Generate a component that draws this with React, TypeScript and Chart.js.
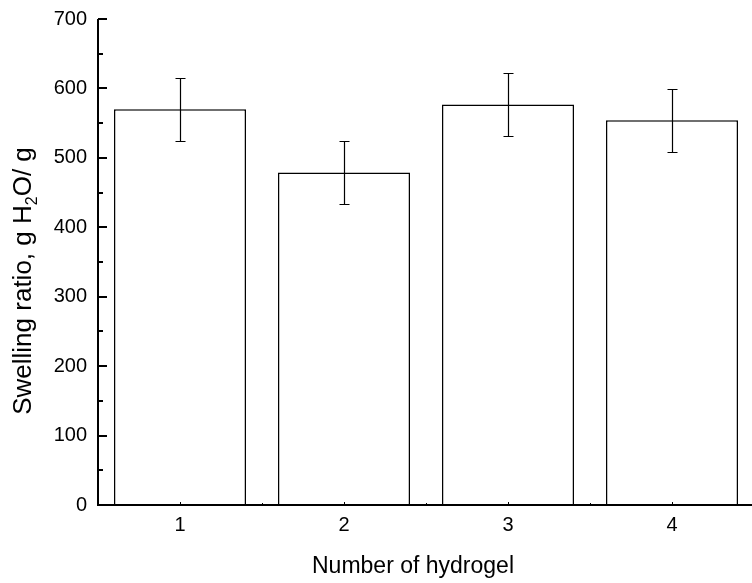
import React, { useEffect, useRef } from "react";
import { Chart, registerables } from "chart.js";

Chart.register(...registerables);

// ---- data ----
const categories = ["1", "2", "3", "4"];
const swellingRatio = [570, 479, 577, 554];
const swellingError = [45, 45, 45, 45];
const yTickMin = 0;
const yTickMax = 700;
const yMajorStep = 100;
const yMinorStep = 50;
const xTitle = "Number of hydrogel";
const yTitleParts = ["Swelling ratio, g H", "2", "O/ g"];

const FONT = "'Liberation Sans', Arial, Helvetica, sans-serif";
const W = 770;
const H = 583;
const LEFT = 98;
const TOP = 19;
const BOTTOM = 505;
const RIGHT = 754;

const decorPlugin = {
  id: "decor",
  afterDatasetsDraw(chart: any) {
    const { ctx, chartArea, scales } = chart;
    const y = scales.y;
    const x = scales.x;
    ctx.save();
    ctx.strokeStyle = "#000";

    // error bars
    const meta = chart.getDatasetMeta(0);
    ctx.lineWidth = 1.2;
    meta.data.forEach((el: any, i: number) => {
      const cx = Math.round(el.x) + 0.5;
      const t = Math.round(y.getPixelForValue(swellingRatio[i] + swellingError[i])) + 0.5;
      const b = Math.round(y.getPixelForValue(swellingRatio[i] - swellingError[i])) + 0.5;
      ctx.beginPath();
      ctx.moveTo(cx, t);
      ctx.lineTo(cx, b);
      ctx.moveTo(cx - 5, t);
      ctx.lineTo(cx + 5, t);
      ctx.moveTo(cx - 5, b);
      ctx.lineTo(cx + 5, b);
      ctx.stroke();
    });

    // axes lines
    ctx.lineWidth = 2;
    ctx.beginPath();
    ctx.moveTo(chartArea.left, chartArea.top);
    ctx.lineTo(chartArea.left, chartArea.bottom + 1);
    ctx.moveTo(chartArea.left - 1, chartArea.bottom);
    ctx.lineTo(chartArea.right, chartArea.bottom);
    ctx.stroke();

    // y ticks (inward)
    ctx.lineWidth = 2;
    ctx.beginPath();
    for (let v = yTickMin; v <= yTickMax; v += yMinorStep) {
      const py = Math.round(y.getPixelForValue(v));
      const major = v % yMajorStep === 0;
      ctx.moveTo(chartArea.left, py);
      ctx.lineTo(chartArea.left + (major ? 9 : 5), py);
    }
    ctx.stroke();

    // x ticks (tiny, inward)
    ctx.lineWidth = 1;
    ctx.beginPath();
    for (let i = 0; i < categories.length; i++) {
      const px = Math.round(x.getPixelForValue(i)) + 0.5;
      ctx.moveTo(px, chartArea.bottom);
      ctx.lineTo(px, chartArea.bottom - 3);
      const pb = Math.round(x.getPixelForValue(i + 0.5)) + 0.5;
      ctx.moveTo(pb, chartArea.bottom);
      ctx.lineTo(pb, chartArea.bottom - 2);
    }
    ctx.stroke();

    // titles
    ctx.fillStyle = "#000";
    ctx.font = `23px ${FONT}`;
    ctx.textAlign = "center";
    ctx.textBaseline = "alphabetic";
    ctx.fillText(xTitle, 413, 573);

    // y title with subscript
    ctx.save();
    ctx.translate(31, 281);
    ctx.rotate(-Math.PI / 2);
    ctx.textAlign = "left";
    const big = `26px ${FONT}`;
    const small = `16px ${FONT}`;
    ctx.font = big;
    const w0 = ctx.measureText(yTitleParts[0]).width;
    const w2 = ctx.measureText(yTitleParts[2]).width;
    ctx.font = small;
    const w1 = ctx.measureText(yTitleParts[1]).width;
    const total = w0 + w1 + w2;
    let cx = -total / 2;
    ctx.font = big;
    ctx.fillText(yTitleParts[0], cx, 0);
    cx += w0;
    ctx.font = small;
    ctx.fillText(yTitleParts[1], cx, 6);
    cx += w1;
    ctx.font = big;
    ctx.fillText(yTitleParts[2], cx, 0);
    ctx.restore();

    ctx.restore();
  },
};

export default function App() {
  const canvasRef = useRef<HTMLCanvasElement | null>(null);

  useEffect(() => {
    const canvas = canvasRef.current;
    if (!canvas) return;
    const chart = new Chart(canvas, {
      type: "bar",
      data: {
        labels: categories,
        datasets: [
          {
            data: swellingRatio,
            backgroundColor: "#ffffff",
            borderColor: "#000000",
            borderWidth: 1.5,
            barPercentage: 0.805,
            categoryPercentage: 1,
          },
        ],
      },
      options: {
        responsive: false,
        animation: false,
        devicePixelRatio: 1,
        layout: { padding: { left: 0, top: TOP, right: W - RIGHT, bottom: 0 } },
        plugins: {
          legend: { display: false },
          tooltip: { enabled: false },
          title: { display: false },
        },
        scales: {
          x: {
            offset: true,
            grid: { display: false, drawTicks: false },
            border: { display: false },
            ticks: {
              color: "#000",
              font: { family: FONT, size: 20 },
              padding: 8,
            },
            afterFit: (scale: any) => {
              scale.height = H - BOTTOM;
              scale.paddingLeft = 0;
              scale.paddingRight = 0;
            },
          },
          y: {
            min: yTickMin,
            max: yTickMax,
            grid: { display: false, drawTicks: false },
            border: { display: false },
            ticks: {
              stepSize: yMajorStep,
              color: "#000",
              font: { family: FONT, size: 20 },
              padding: 11,
            },
            afterFit: (scale: any) => {
              scale.width = LEFT;
              scale.paddingTop = 0;
              scale.paddingBottom = 0;
            },
          },
        },
      },
      plugins: [decorPlugin],
    });
    return () => chart.destroy();
  }, []);

  return (
    <div
      style={{
        position: "fixed",
        left: 0,
        top: 0,
        width: 752,
        height: 583,
        overflow: "hidden",
        background: "#fff",
      }}
    >
      <canvas ref={canvasRef} width={W} height={H} style={{ display: "block" }} />
    </div>
  );
}
